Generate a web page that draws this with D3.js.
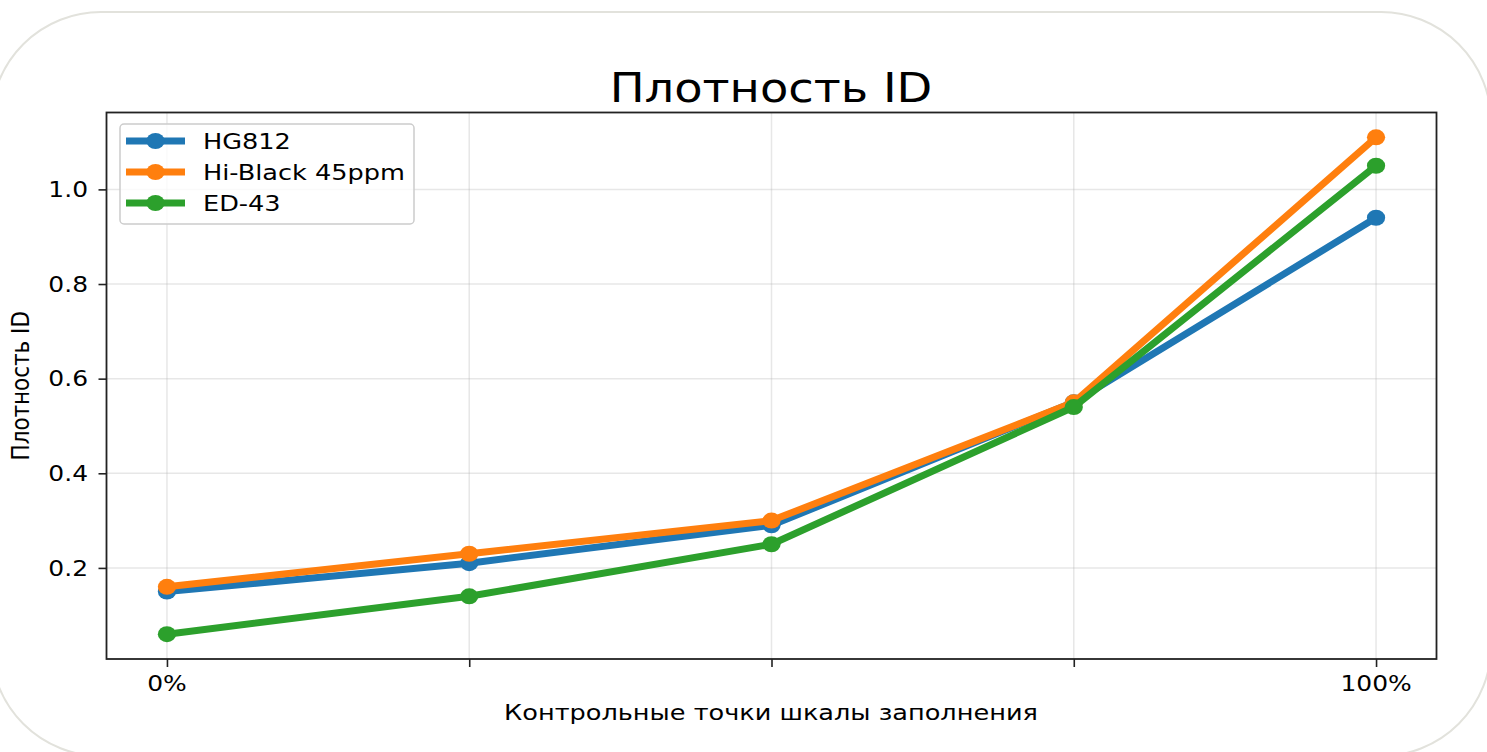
<!DOCTYPE html>
<html><head><meta charset="utf-8">
<script src="https://cdn.jsdelivr.net/npm/d3@7"></script>
<style>body{margin:0;background:#fff}svg{display:block}</style>
</head><body>
<svg id="c" width="1487" height="752"></svg>
<script>
const categories = ["0%", "25%", "50%", "75%", "100%"];
const tickLabels = ["0%", "", "", "", "100%"];
const seriesNames = ["HG812", "Hi-Black 45ppm", "ED-43"];
const hg812 = [0.15, 0.21, 0.29, 0.55, 0.94];
const hiBlack = [0.16, 0.23, 0.30, 0.55, 1.11];
const ed43 = [0.06, 0.14, 0.25, 0.54, 1.05];
const yTicks = [0.2, 0.4, 0.6, 0.8, 1.0];
const colors = ["#1f77b4", "#ff7f0e", "#2ca02c"];
const title = "Плотность ID";
const xTitle = "Контрольные точки шкалы заполнения";
const yTitle = "Плотность ID";

const SX = 1.14;
const FONT = "DejaVu Sans";
const svg = d3.select("#c");
const L = 106.5, R = 1436.5, T = 112.5, B = 659;

svg.append("rect").attr("x", -9).attr("y", 12).attr("width", 1500).attr("height", 744)
  .attr("rx", 110).attr("ry", 110).attr("fill", "#fff").attr("stroke", "#e2e2dc").attr("stroke-width", 2);

const series = [hg812, hiBlack, ed43];
const allVals = series.flat();
const ymin = d3.min(allVals), ymax = d3.max(allVals), pad = (ymax - ymin) * 0.05;
const x = d3.scaleLinear().domain([-0.2, categories.length - 1 + 0.2]).range([L, R]);
const y = d3.scaleLinear().domain([ymin - pad, ymax + pad]).range([B, T]);

function txt(g, s, px, py, size, anchor, rot, sx) {
  return g.append("text").attr("transform", `translate(${px},${py}) scale(${sx || SX},1)` + (rot ? ` rotate(${rot})` : ""))
    .attr("font-family", FONT).attr("font-size", size).attr("text-anchor", anchor).attr("fill", "#000").text(s);
}

// grid
const grid = svg.append("g");
grid.selectAll(".gx").data(categories).enter().append("line")
  .attr("x1", (d, i) => x(i)).attr("x2", (d, i) => x(i)).attr("y1", T).attr("y2", B)
  .attr("stroke", "#b0b0b0").attr("stroke-opacity", 0.3).attr("stroke-width", 1.5);
grid.selectAll(".gy").data(yTicks).enter().append("line")
  .attr("y1", d => y(d)).attr("y2", d => y(d)).attr("x1", L).attr("x2", R)
  .attr("stroke", "#b0b0b0").attr("stroke-opacity", 0.3).attr("stroke-width", 1.5);

// axes
const xAxis = d3.axisBottom(x).tickValues(d3.range(categories.length)).tickFormat(() => "").tickSize(8).tickSizeOuter(0);
const gx = svg.append("g").attr("transform", `translate(0,${B})`).call(xAxis);
gx.select(".domain").remove();
gx.selectAll(".tick line").attr("stroke", "#222").attr("stroke-width", 1.6);
const yAxis = d3.axisLeft(y).tickValues(yTicks).tickFormat(() => "").tickSize(8).tickSizeOuter(0);
const gy = svg.append("g").attr("transform", `translate(${L},0)`).call(yAxis);
gy.select(".domain").remove();
gy.selectAll(".tick line").attr("stroke", "#222").attr("stroke-width", 1.6);

const labels = svg.append("g");
tickLabels.forEach((t, i) => { if (t) txt(labels, t, x(i), 691, 21.5, "middle", 0, 1.16); });
yTicks.forEach(v => txt(labels, d3.format(".1f")(v), 88, y(v) + 7.8, 21.5, "end", 0, 1.16));

// lines
const line = d3.line().x((d, i) => x(i)).y(d => y(d));
series.forEach((s, k) => {
  const g = svg.append("g");
  g.append("path").attr("d", line(s)).attr("fill", "none").attr("stroke", colors[k])
    .attr("stroke-width", 7).attr("stroke-linejoin", "round").attr("stroke-linecap", "butt");
  g.selectAll("ellipse").data(s).enter().append("ellipse")
    .attr("cx", (d, i) => x(i)).attr("cy", d => y(d)).attr("rx", 8 * SX).attr("ry", 8).attr("fill", colors[k]);
});

// frame
svg.append("rect").attr("x", L).attr("y", T).attr("width", R - L).attr("height", B - T)
  .attr("fill", "none").attr("stroke", "#222").attr("stroke-width", 1.8);

// title & axis labels
txt(svg, title, 771, 102, 40, "middle", 0, 1.16);
txt(svg, xTitle, 771, 720, 21.5, "middle", 0, 1.19);
txt(svg, yTitle, 29, (T + B) / 2, 21.5, "middle", -90, 1.14);

// legend
const lg = svg.append("g");
lg.append("rect").attr("x", 120).attr("y", 124).attr("width", 294).attr("height", 100).attr("rx", 4)
  .attr("fill", "#fff").attr("fill-opacity", 0.8).attr("stroke", "#ccc").attr("stroke-width", 1.5);
seriesNames.forEach((n, k) => {
  const cy = 141 + k * 31;
  lg.append("line").attr("x1", 126).attr("x2", 185).attr("y1", cy).attr("y2", cy).attr("stroke", colors[k]).attr("stroke-width", 7);
  lg.append("ellipse").attr("cx", 155.5).attr("cy", cy).attr("rx", 8 * SX).attr("ry", 8).attr("fill", colors[k]);
  txt(lg, n, 203, cy + 8, 21.5, "start", 0, 1.19);
});
</script>
</body></html>
